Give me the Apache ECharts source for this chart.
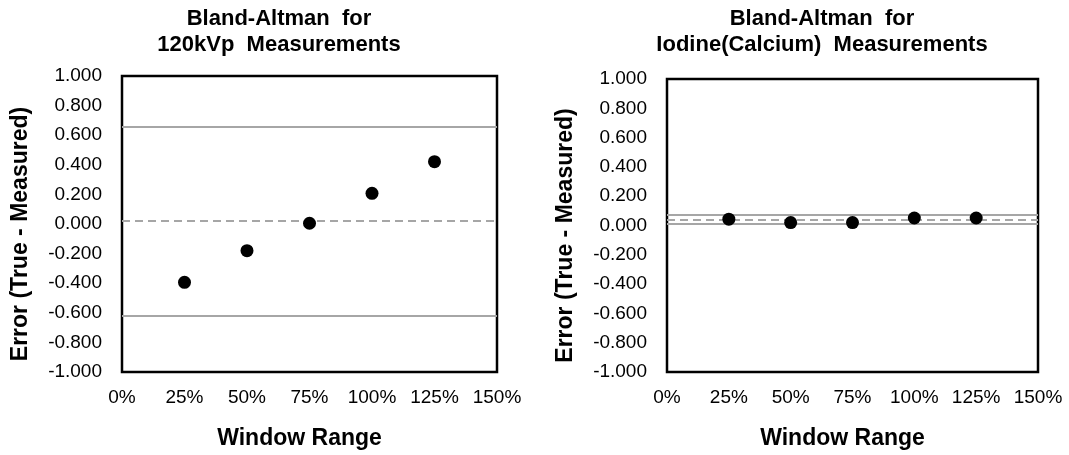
<!DOCTYPE html>
<html>
<head>
<meta charset="utf-8">
<script src="https://cdn.jsdelivr.net/npm/echarts@6/dist/echarts.min.js"></script>
<style>
html,body{margin:0;padding:0;background:#fff;}
#chart{width:1069px;height:455px;}
</style>
</head>
<body>
<div id="chart"></div>
<script>
// ---- data ----
const windowRange = [25, 50, 75, 100, 125];            // %
const error120kVp = [-0.394, -0.180, 0.005, 0.207, 0.421];
const errorIodine = [0.043, 0.020, 0.020, 0.051, 0.051];
const limits120kVp = [0.657, 0.018, -0.622];           // upper LoA, mean, lower LoA
const limitsIodine = [0.065, 0.038, 0.011];
const titles = ['Bland-Altman  for\n120kVp  Measurements', 'Bland-Altman  for\nIodine(Calcium)  Measurements'];
const xAxisName = 'Window Range';
const yAxisName = 'Error (True - Measured)';

const FONT = '"Liberation Sans", Arial, sans-serif';
const chart = echarts.init(document.getElementById('chart'), null, {renderer: 'canvas'});

function pairs(xs, ys) { return xs.map((x, i) => [x, ys[i]]); }
function markLines(lim) {
  const grey = '#A6A6A6';
  return {
    silent: true, symbol: 'none', label: {show: false}, animation: false,
    data: [
      {yAxis: lim[0], lineStyle: {color: grey, width: 2, type: 'solid'}},
      {yAxis: lim[1], lineStyle: {color: grey, width: 2, type: [8, 5]}},
      {yAxis: lim[2], lineStyle: {color: grey, width: 2, type: 'solid'}}
    ]
  };
}
const grids = [
  {left: 122, top: 76, width: 375, height: 296},
  {left: 667, top: 79, width: 371, height: 296}
];
const axisLabelStyle = {color: '#000', fontFamily: FONT, fontSize: 19};
const nameStyle = {color: '#000', fontFamily: FONT, fontSize: 23, fontWeight: 'bold', padding: [0, 20, 0, 0]};
const titleStyle = {fontFamily: FONT, fontSize: 22, fontWeight: 'bold', color: '#000', lineHeight: 26};

const option = {
  backgroundColor: '#fff',
  animation: false,
  title: [
    {text: titles[0], left: 274, top: 1, textAlign: 'center', textStyle: titleStyle},
    {text: titles[1], left: 817, top: 1, textAlign: 'center', textStyle: titleStyle}
  ],
  grid: grids.map(g => Object.assign({show: true, borderColor: '#000', borderWidth: 2.5, backgroundColor: 'transparent'}, g)),
  xAxis: [0, 1].map(i => ({
    gridIndex: i, type: 'value', min: 0, max: 150, interval: 25,
    name: xAxisName, nameLocation: 'middle', nameGap: 55, nameTextStyle: nameStyle,
    axisLine: {show: false}, axisTick: {show: false}, splitLine: {show: false},
    axisLabel: Object.assign({margin: 16, formatter: v => v + '%'}, axisLabelStyle)
  })),
  yAxis: [0, 1].map(i => ({
    gridIndex: i, type: 'value', min: -1, max: 1, interval: 0.2,
    name: yAxisName, nameLocation: 'middle', nameGap: 90, nameTextStyle: nameStyle,
    axisLine: {show: false}, axisTick: {show: false}, splitLine: {show: false},
    axisLabel: Object.assign({margin: 20, formatter: v => v.toFixed(3)}, axisLabelStyle)
  })),
  series: [
    {type: 'scatter', xAxisIndex: 0, yAxisIndex: 0, data: pairs(windowRange, error120kVp),
     symbol: 'circle', symbolSize: 13, itemStyle: {color: '#000', opacity: 1}, z: 5, markLine: markLines(limits120kVp)},
    {type: 'scatter', xAxisIndex: 1, yAxisIndex: 1, data: pairs(windowRange, errorIodine),
     symbol: 'circle', symbolSize: 13, itemStyle: {color: '#000', opacity: 1}, z: 5, markLine: markLines(limitsIodine)}
  ]
};
chart.setOption(option);
</script>
</body>
</html>
